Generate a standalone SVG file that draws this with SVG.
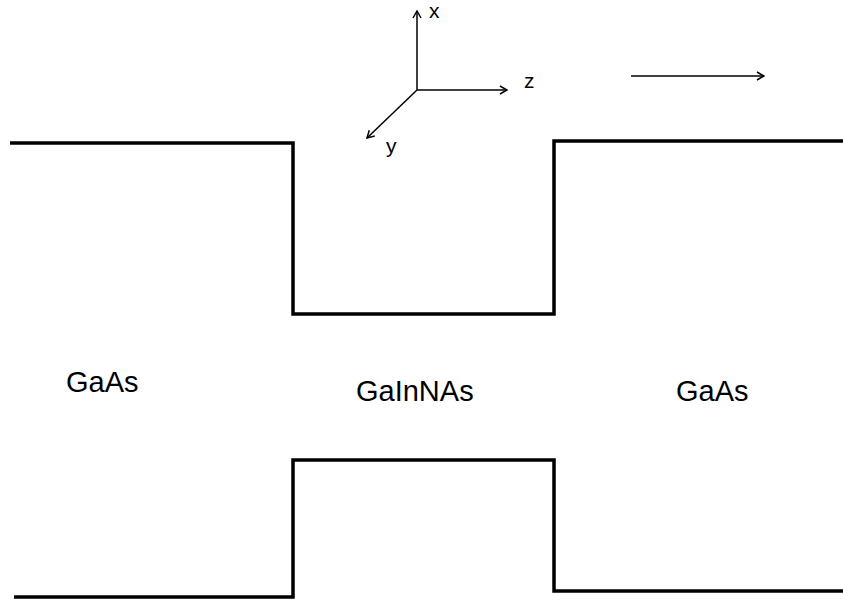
<svg xmlns="http://www.w3.org/2000/svg" width="843" height="605" viewBox="0 0 843 605">
<defs>
<style>
.band{fill:none;stroke:#000;stroke-width:3.5;stroke-linejoin:miter}
.ax{fill:none;stroke:#000;stroke-width:1.5}
.lbl{font-family:"Liberation Sans",Arial,sans-serif;font-size:29px;fill:#000}
.axl{font-family:"Liberation Sans",Arial,sans-serif;font-size:21px;fill:#000}
</style>
<marker id="ah" viewBox="0 0 10 10" refX="9" refY="5" markerWidth="10" markerHeight="10" markerUnits="userSpaceOnUse" orient="auto">
<path d="M2,1 L9,5 L2,9" fill="none" stroke="#000" stroke-width="1.5"/>
</marker>
</defs>
<rect width="843" height="605" fill="#fff"/>
<g id="connectors">
<path id="conduction-band" class="band" d="M10,143 H293 V314 H554 V141 H843"/>
<path id="valence-band" class="band" d="M14,597 H293 V460 H554 V591 H843"/>
<line class="ax" x1="417" y1="90" x2="417" y2="11" marker-end="url(#ah)"/>
<line class="ax" x1="417" y1="90" x2="507" y2="90" marker-end="url(#ah)"/>
<line class="ax" x1="417" y1="90" x2="367" y2="138" marker-end="url(#ah)"/>
<line class="ax" x1="631" y1="76" x2="764" y2="76" marker-end="url(#ah)"/>
</g>
<g id="axes-labels">
<text class="axl" x="429" y="18">x</text>
<text class="axl" x="524" y="88">z</text>
<text class="axl" x="386" y="153">y</text>
</g>
<g id="gaas-left"><text class="lbl" x="66" y="392">GaAs</text></g>
<g id="gainnas"><text class="lbl" x="356" y="401">GaInNAs</text></g>
<g id="gaas-right"><text class="lbl" x="676" y="401">GaAs</text></g>
</svg>
